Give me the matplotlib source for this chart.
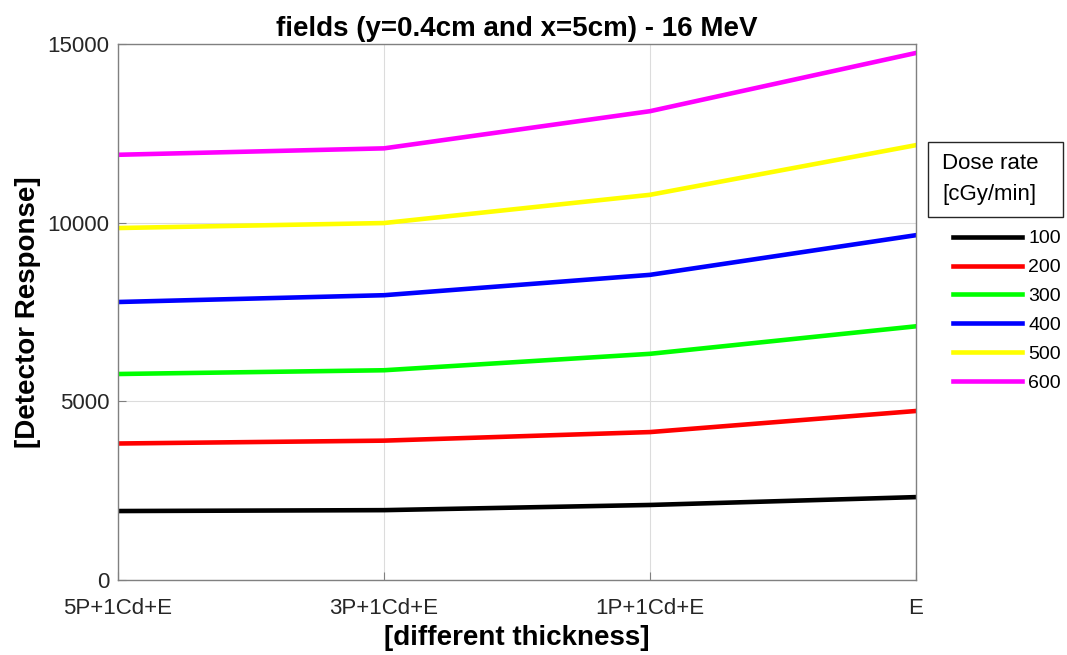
import matplotlib.pyplot as plt
from matplotlib.patches import Rectangle

# data
thickness = ["5P+1Cd+E", "3P+1Cd+E", "1P+1Cd+E", "E"]
dose_rates = ["100", "200", "300", "400", "500", "600"]
resp_100 = [1930, 1955, 2100, 2320]
resp_200 = [3820, 3900, 4140, 4730]
resp_300 = [5765, 5870, 6330, 7100]
resp_400 = [7780, 7970, 8540, 9650]
resp_500 = [9850, 9990, 10780, 12170]
resp_600 = [11900, 12080, 13120, 14750]

colors = ["#000000", "#ff0000", "#00ff00", "#0000ff", "#ffff00", "#ff00ff"]

plt.rcParams['font.family'] = ['Liberation Sans', 'DejaVu Sans']

fig = plt.figure(figsize=(10.67, 6.55), dpi=100)
ax = fig.add_axes([0.1106, 0.1145, 0.7479, 0.8183])

series = [resp_100, resp_200, resp_300, resp_400, resp_500, resp_600]
xs = list(range(len(thickness)))
for vals, col, lab in zip(series, colors, dose_rates):
    ax.plot(xs, vals, color=col, linewidth=3.3, label=lab)

ax.set_xlim(0, 3)
ax.set_ylim(0, 15000)
ax.set_xticks(xs)
ax.set_xticklabels(thickness)
ax.set_yticks([0, 5000, 10000, 15000])
ax.grid(True, color='#dcdcdc', linewidth=0.8)
ax.set_axisbelow(True)
for sp in ax.spines.values():
    sp.set_color('#808080')
    sp.set_linewidth(1.0)
ax.tick_params(direction='in', length=6, colors='#808080', labelcolor='#262626',
               labelsize=16, top=False, right=False)
ax.tick_params(axis='x', pad=13)
ax.tick_params(axis='y', pad=6)

ax.set_title("fields (y=0.4cm and x=5cm) - 16 MeV", fontsize=20, fontweight='bold', pad=6)
ax.set_xlabel("[different thickness]", fontsize=20, fontweight='bold', labelpad=4)
ax.set_ylabel("[Detector Response]", fontsize=20, fontweight='bold', labelpad=5)

# legend title drawn as its own box, entries below without a frame
fig.patches.append(Rectangle((0.8697, 0.6687), 0.1265, 0.1145, transform=fig.transFigure,
                             facecolor='white', edgecolor='#262626', linewidth=1))
fig.text(0.8829, 0.7511, "Dose rate", fontsize=16, va='center', ha='left')
fig.text(0.8829, 0.7023, "[cGy/min]", fontsize=16, va='center', ha='left')
ax.legend(loc='upper left', bbox_to_anchor=(1.025, 0.686), frameon=False,
          fontsize=14, handlelength=3.5, handletextpad=0.35, labelspacing=0.58)

fig.savefig("out.png", dpi=100)
